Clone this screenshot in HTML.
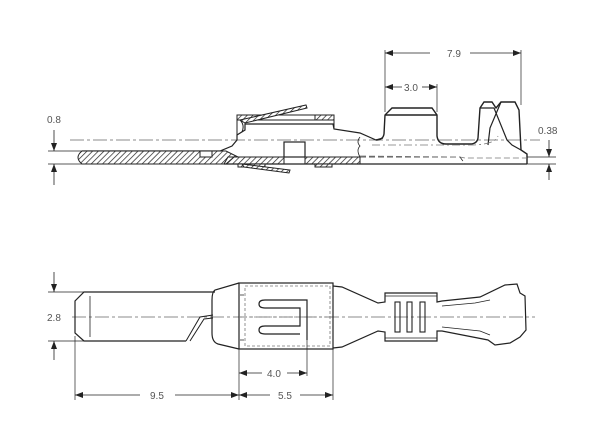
<!DOCTYPE html>
<html><head><meta charset="utf-8"><style>
html,body{margin:0;padding:0;background:#fff;}
svg{display:block;}
text{font-family:"Liberation Sans",sans-serif;font-size:10px;fill:#555;}
</style></head><body>
<svg width="604" height="446" viewBox="0 0 604 446" xmlns="http://www.w3.org/2000/svg">
<defs>
<pattern id="h" width="4" height="4" patternUnits="userSpaceOnUse" patternTransform="rotate(45)">
<rect width="4" height="4" fill="#fff"/><line x1="0" y1="0" x2="0" y2="4" stroke="#222" stroke-width="1.4"/>
</pattern>
<marker id="a" markerWidth="8" markerHeight="6" refX="8" refY="3" orient="auto" markerUnits="userSpaceOnUse">
<path d="M0,0 L8,3 L0,6 z" fill="#222"/></marker>
</defs>
<g stroke="#222" fill="none" stroke-width="1">
<!-- ===== TOP VIEW ===== -->
<line x1="70" y1="140" x2="540" y2="140" stroke-dasharray="14,3,3,3" stroke="#666" stroke-width="0.8"/>
<!-- pin hatched -->
<path d="M82,151 L220,151 L232,146 L237,140 L237,135 L245,130 L245,124 L333,124 L334,129 L360,133 L376,140 L383,138" fill="none" stroke-width="1.2"/>
<path d="M82,151 L215,151 L226,151 L238,157 L228,157 L224,164 L82,164 Q74,157.5 82,151 z" fill="url(#h)"/>
<rect x="200" y="151" width="12" height="6" fill="#fff"/>
<path d="M226,164 L234,157 L284,157 L284,164 z" fill="url(#h)"/>
<rect x="284" y="142" width="21" height="15" fill="#fff" stroke-width="1.2"/>
<rect x="305" y="157" width="55" height="7" fill="url(#h)"/>
<path d="M360,157 L460,157 L465,164 L360,164" stroke-dasharray="6,3" stroke-width="0.8"/>
<line x1="224" y1="164" x2="527" y2="164" stroke-width="1.2"/>
<path d="M360,157 Q356,150 360,146 Q356,142 360,137" stroke-width="0.8"/>
<rect x="238" y="164" width="27" height="3" fill="url(#h)"/>
<rect x="315" y="164" width="17" height="3" fill="url(#h)"/>
<!-- sleeve top -->
<rect x="237" y="115" width="97" height="5" fill="url(#h)"/>
<rect x="258" y="115" width="57" height="5" fill="#fff"/>
<line x1="237" y1="115" x2="237" y2="135"/>
<line x1="334" y1="115" x2="334" y2="129"/>
<path d="M240,120 Q245,125 242,132"/>
<path d="M240,120 L306,105 L307,108 L245,123 z" fill="url(#h)"/>
<path d="M242,164 L290,170 L289,173 L244,167 z" fill="url(#h)"/>
<!-- crimp -->
<path d="M376,140 Q383,140 384,134 L385,115 L392,108 L432,108 L437,115 L437,136 Q438,144 446,144 L470,144 Q477,144 478,138 L480,108 L484,102 L492,102 L496,108 L501,102 L515,102 L519,110 L521,150 L527,154 L527,164" stroke-width="1.4"/>
<line x1="385" y1="115" x2="437" y2="115" stroke-width="1.4"/>
<path d="M480,108 L494,108 L507,140 L512,145 L521,150" stroke-width="1.2"/>
<path d="M501,102 L490,128 L488,145" stroke-width="1.2"/>
<path d="M372,145 L470,145 Q495,145 498,136" stroke-dasharray="8,3,2,3" stroke="#777" stroke-width="0.8"/>
<path d="M360,156 L460,157 L465,158 L527,158" stroke-dasharray="6,3" stroke="#777" stroke-width="0.8"/>
<!-- top dims -->
<line x1="48" y1="151" x2="84" y2="151" stroke-width="0.7"/>
<line x1="48" y1="164" x2="84" y2="164" stroke-width="0.7"/>
<line x1="54" y1="130" x2="54" y2="151" marker-end="url(#a)" stroke-width="0.8"/>
<line x1="54" y1="185" x2="54" y2="164" marker-end="url(#a)" stroke-width="0.8"/>
<line x1="385" y1="50" x2="385" y2="112" stroke-width="0.7"/>
<line x1="521" y1="50" x2="521" y2="105" stroke-width="0.7"/>
<line x1="437" y1="84" x2="437" y2="112" stroke-width="0.7"/>
<line x1="430" y1="53" x2="385" y2="53" marker-end="url(#a)" stroke-width="0.8"/>
<line x1="470" y1="53" x2="521" y2="53" marker-end="url(#a)" stroke-width="0.8"/>
<line x1="402" y1="87" x2="385" y2="87" marker-end="url(#a)" stroke-width="0.8"/>
<line x1="422" y1="87" x2="437" y2="87" marker-end="url(#a)" stroke-width="0.8"/>
<line x1="527" y1="157" x2="556" y2="157" stroke-width="0.7"/>
<line x1="527" y1="164" x2="556" y2="164" stroke-width="0.7"/>
<line x1="549" y1="140" x2="549" y2="157" marker-end="url(#a)" stroke-width="0.8"/>
<line x1="549" y1="180" x2="549" y2="164" marker-end="url(#a)" stroke-width="0.8"/>

<!-- ===== BOTTOM VIEW ===== -->
<line x1="72" y1="317" x2="535" y2="317" stroke-dasharray="14,3,3,3" stroke="#666" stroke-width="0.8"/>
<path d="M215,292 L84,292 L75,301 L75,333 L84,341 L186,341" stroke-width="1.2"/>
<line x1="90" y1="296" x2="90" y2="337" stroke-width="0.8"/>
<path d="M186,341 L200,317 L213,315 M190,341 L204,319 L213,318" stroke-width="1"/>
<path d="M239,283 L215,290 Q212,292 212,300 L212,333 Q212,342 218,344 L239,349" stroke-width="1.2"/>
<rect x="239" y="283" width="94" height="66" stroke-width="1.2"/>
<rect x="245" y="286" width="85" height="60" stroke-dasharray="3,2" stroke="#777" stroke-width="0.8"/>
<line x1="239" y1="317" x2="333" y2="317" stroke-dasharray="3,2" stroke="#777" stroke-width="0.8"/>
<path d="M307,340 L307,300 L265,300 Q259,300 259,304 Q259,308 265,308 L300,308 L300,326 L265,326 Q259,326 259,330 Q259,334 265,334 L300,334" stroke-width="1.2"/>
<path d="M240,295 L244,295 M240,340 L244,340" stroke-width="0.8"/>
<path d="M333,286 L342,287 L378,303 L385,302 L385,293 L437,293 L437,302 L442,301 L480,297 L505,285 L517,284 L520,293 L525,296 L526,330 L520,337 L510,343 L495,345 L488,340 L442,331 L437,331 L437,341 L385,341 L385,332 L378,331 L342,347 L333,348" stroke-width="1.2"/>
<line x1="385" y1="296" x2="437" y2="296" stroke-width="0.8"/>
<line x1="385" y1="338" x2="437" y2="338" stroke-width="0.8"/>
<rect x="395" y="302" width="5" height="30" stroke-width="1.1"/>
<rect x="407" y="302" width="5" height="30" stroke-width="1.1"/>
<rect x="420" y="302" width="5" height="30" stroke-width="1.1"/>
<path d="M442,306 L475,303 L490,300 M442,327 L480,331 L490,335" stroke-width="0.8"/>
<!-- bottom dims -->
<line x1="48" y1="292" x2="84" y2="292" stroke-width="0.7"/>
<line x1="48" y1="341" x2="84" y2="341" stroke-width="0.7"/>
<line x1="54" y1="272" x2="54" y2="292" marker-end="url(#a)" stroke-width="0.8"/>
<line x1="54" y1="360" x2="54" y2="341" marker-end="url(#a)" stroke-width="0.8"/>
<line x1="75" y1="336" x2="75" y2="400" stroke-width="0.7"/>
<line x1="239" y1="349" x2="239" y2="400" stroke-width="0.7"/>
<line x1="333" y1="349" x2="333" y2="400" stroke-width="0.7"/>
<line x1="307" y1="340" x2="307" y2="376" stroke-width="0.7"/>
<line x1="140" y1="395" x2="75" y2="395" marker-end="url(#a)" stroke-width="0.8"/>
<line x1="175" y1="395" x2="239" y2="395" marker-end="url(#a)" stroke-width="0.8"/>
<line x1="270" y1="395" x2="239" y2="395" marker-end="url(#a)" stroke-width="0.8"/>
<line x1="300" y1="395" x2="333" y2="395" marker-end="url(#a)" stroke-width="0.8"/>
<line x1="262" y1="373" x2="239" y2="373" marker-end="url(#a)" stroke-width="0.8"/>
<line x1="287" y1="373" x2="307" y2="373" marker-end="url(#a)" stroke-width="0.8"/>
</g>
<text x="47" y="123">0.8</text>
<text x="447" y="57">7.9</text>
<text x="404" y="91">3.0</text>
<text x="538" y="134">0.38</text>
<text x="47" y="321">2.8</text>
<text x="150" y="399">9.5</text>
<text x="278" y="399">5.5</text>
<text x="267" y="377">4.0</text>
</svg>
</body></html>
